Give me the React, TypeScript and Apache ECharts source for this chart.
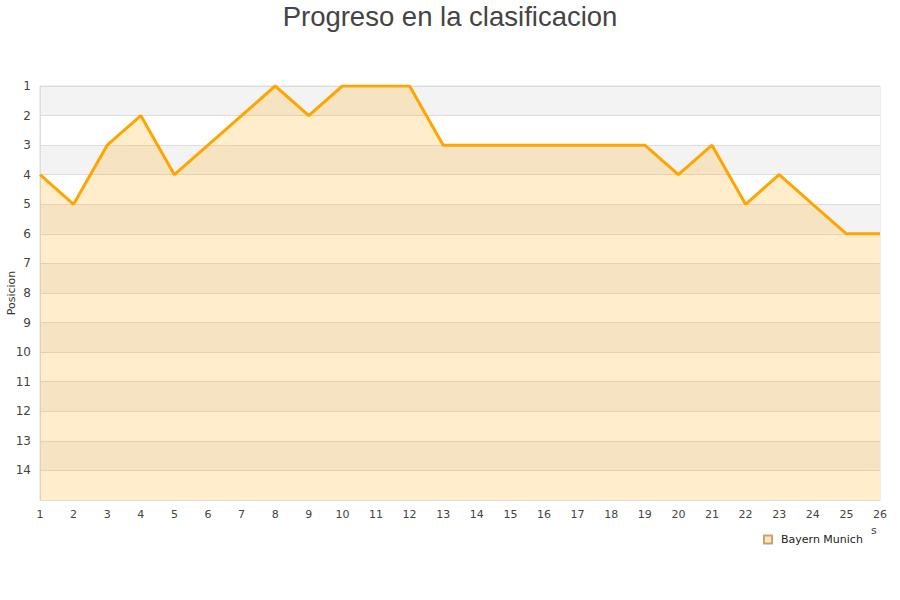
import React, { useEffect, useRef } from "react";
import * as echarts from "echarts";

const rounds = ["1","2","3","4","5","6","7","8","9","10","11","12","13","14","15","16","17","18","19","20","21","22","23","24","25","26"];
const positions = [4,5,3,2,4,3,2,1,2,1,1,1,3,3,3,3,3,3,3,4,3,5,4,5,6,6];
const teamName = "Bayern Munich";
const titleText = "Progreso en la clasificacion";
const yAxisName = "Posicion";

export default function App() {
  const ref = useRef<HTMLDivElement>(null);
  useEffect(() => {
    if (!ref.current) return;
    const chart = echarts.init(ref.current, null, { renderer: "svg" });
    chart.setOption({
      animation: false,
      backgroundColor: "#fff",
      title: {
        text: titleText,
        left: "center",
        top: -3,
        textStyle: { fontFamily: "Liberation Sans, Arial, sans-serif", fontSize: 27.5, fontWeight: "normal", color: "#444" },
      },
      legend: {
        data: [{ name: teamName, icon: "rect" }],
        left: 758,
        top: 529,
        itemWidth: 8,
        itemHeight: 8,
        itemGap: 6,
        textStyle: { fontFamily: "DejaVu Sans, sans-serif", fontSize: 11, color: "#222", padding: [0, 0, 0, 4] },
      },
      grid: { left: 40, right: 20, top: 86, bottom: 100, outerBoundsMode: "none", containLabel: false, show: true, borderColor: "#ddd", borderWidth: 1, backgroundColor: "transparent" },
      xAxis: {
        type: "category",
        data: rounds,
        boundaryGap: false,
        axisLine: { show: true, lineStyle: { color: "#ddd" } },
        axisTick: { show: false },
        axisLabel: { color: "#444", fontFamily: "DejaVu Sans, sans-serif", fontSize: 11, margin: 9, interval: 0 },
        splitLine: { show: false },
      },
      yAxis: {
        type: "value",
        inverse: true,
        min: 1,
        max: 15,
        interval: 1,
        name: yAxisName,
        nameLocation: "middle",
        nameGap: 23,
        nameMoveOverlap: false,
        nameTextStyle: { color: "#333", fontFamily: "DejaVu Sans, sans-serif", fontSize: 11 },
        axisLine: { show: true, lineStyle: { color: "#ddd" } },
        axisTick: { show: false },
        axisLabel: {
          color: "#444",
          fontFamily: "DejaVu Sans, sans-serif",
          fontSize: 12,
          margin: 9,
          formatter: (v: number) => (v === 15 ? "" : String(v)),
        },
        splitLine: { show: true, lineStyle: { color: "#ddd" } },
        splitArea: { show: true, areaStyle: { color: ["#f3f3f3", "#ffffff"] } },
      },
      graphic: [
        {
          type: "text",
          left: 871,
          top: 525,
          style: { text: "s", fill: "#444", font: "11px DejaVu Sans, sans-serif" },
        },
      ],
      series: [
        {
          name: teamName,
          type: "line",
          data: positions,
          symbol: "none",
          lineStyle: { color: "#FFA500", width: 3 },
          itemStyle: { color: "#fde6c0", borderColor: "#c9a16a", borderWidth: 1 },
          areaStyle: { color: "#FFA500", opacity: 0.2, origin: "end" },
        },
      ],
    });
    return () => chart.dispose();
  }, []);
  return <div ref={ref} style={{ width: 900, height: 600, position: "absolute", left: 0, top: 0 }} />;
}
